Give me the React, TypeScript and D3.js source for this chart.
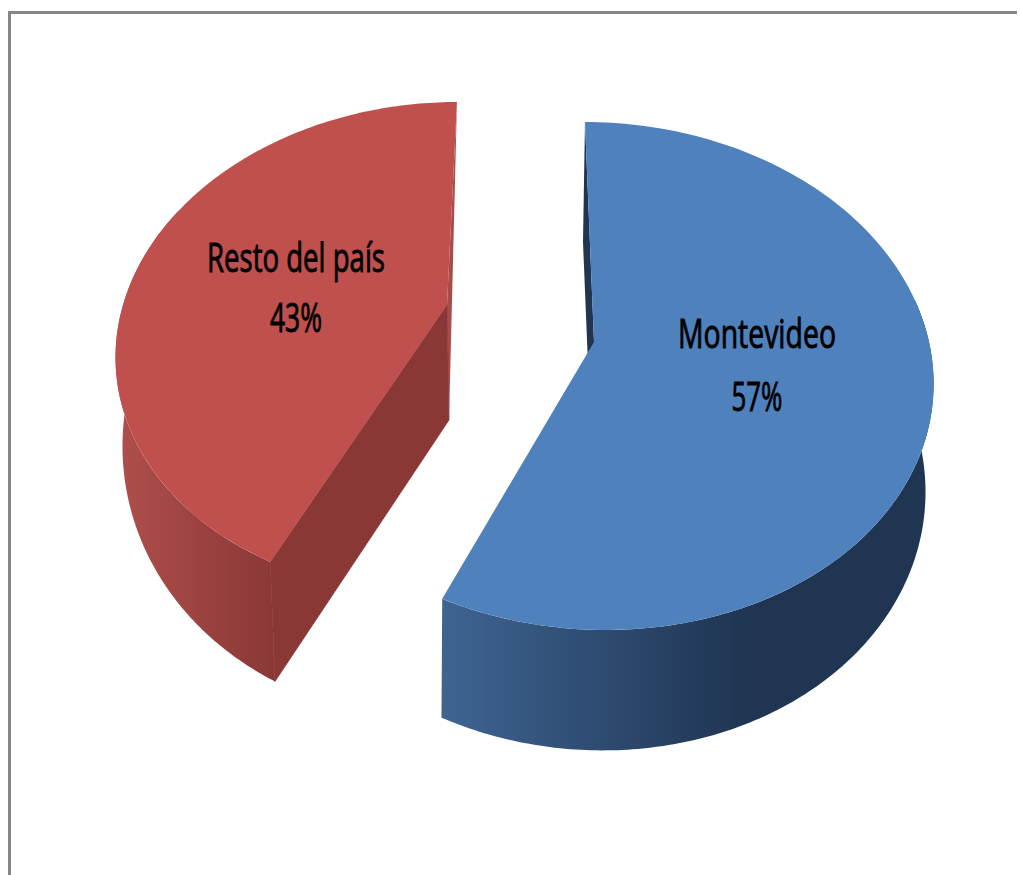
import React from "react";
import * as d3 from "d3";

const categories = ["Montevideo", "Resto del país"];
const shares = [57, 43];
const labels = ["57%", "43%"];

const layouts = [
  {
    ax: 594, ay: 342, rx: 335, ry: 249.4, k: 0.134, skew: 0.041,
    sx: 0.985, sy: 1.05, bx: -3, by: 106, sideRange: [80, 205.2],
    startBottom: [583, 242], apexBottom: [592, 462],
    top: "#4f81bd", wall: "#1f3552", gradFrom: "#3f6492", gradTo: "#1f3552", gradX: [442, 745],
    text: [{ x: 757, y: 348, w: 158 }, { x: 757, y: 411, w: 51 }],
  },
  {
    ax: 447, ay: 305, rx: 324, ry: 238.7, k: 0.176, skew: -0.049,
    sx: 0.985, sy: 1.15, bx: 2, by: 81, sideRange: [205.2, 295],
    startBottom: [453, 261], apexBottom: [449, 420],
    top: "#c0504d", wall: "#8a3836", gradFrom: "#ae4e4b", gradTo: "#8a3836", gradX: [122, 275],
    text: [{ x: 296, y: 272, w: 178 }, { x: 296, y: 332, w: 52 }],
  },
];

const pieGen = d3.pie<number>().sort(null);
const arcs = pieGen(shares);
const line = d3.line<number[]>().x((d) => d[0]).y((d) => d[1]);

type L = (typeof layouts)[number];

function topPoint(l: L, a: number): number[] {
  const u = Math.sin(a);
  const v = -Math.cos(a);
  const den = 1 - l.k * v;
  const y = (l.ry * v) / den;
  const x = (l.rx * u) / den + l.skew * y;
  return [l.ax + x, l.ay + y];
}

function bottomPoint(l: L, p: number[]): number[] {
  return [l.ax + l.bx + (p[0] - l.ax) * l.sx, l.ay + l.by + (p[1] - l.ay) * l.sy];
}

function sample(from: number, to: number): number[] {
  const n = 160;
  return d3.range(n + 1).map((i) => from + ((to - from) * i) / n);
}

export default function App() {
  return (
    <svg
      width={1020}
      height={875}
      viewBox="0 0 1020 875"
      style={{ position: "absolute", left: 0, top: 0, background: "#fff" }}
    >
      <defs>
        {layouts.map((l, i) => (
          <linearGradient key={i} id={`side${i}`} gradientUnits="userSpaceOnUse" x1={l.gradX[0]} x2={l.gradX[1]} y1={0} y2={0}>
            <stop offset="0" stopColor={l.gradFrom} />
            <stop offset="1" stopColor={l.gradTo} />
          </linearGradient>
        ))}
      </defs>
      <path d="M9.5,875V12.5H1017" fill="none" stroke="#868686" strokeWidth={3} />
      {arcs.map((arc, i) => {
        const l = layouts[i];
        const angles = sample(arc.startAngle, arc.endAngle);
        const top = angles.map((a) => topPoint(l, a));
        const apex = [l.ax, l.ay];
        const rad = Math.PI / 180;
        const sideTop = sample(l.sideRange[0] * rad, l.sideRange[1] * rad).map((a) => topPoint(l, a));
        const sideBottom = sideTop.map((p) => bottomPoint(l, p)).reverse();
        // The straight cut that faces the gap: far end is the top of the pie for both slices.
        const farEnd = i === 0 ? top[0] : top[top.length - 1];
        const nearEnd = i === 0 ? top[top.length - 1] : top[0];
        const cutWall = [farEnd, apex, l.apexBottom, l.startBottom];
        const frontWall = [apex, nearEnd, bottomPoint(l, nearEnd), l.apexBottom];
        return (
          <g key={categories[i]}>
            <path d={line(cutWall) + "Z"} fill={i === 0 ? l.wall : "#a84c49"} />
            <path d={line([...sideTop, ...sideBottom]) + "Z"} fill={`url(#side${i})`} />
            {i === 1 && <path d={line(frontWall) + "Z"} fill={l.wall} stroke={l.wall} strokeWidth={0.8} />}
            <path d={line([apex, ...top]) + "Z"} fill={l.top} />
            <g fill="#000" stroke="#000" strokeWidth={0.9} fontFamily="'Liberation Sans Narrow','Open Sans',sans-serif" fontSize={41} textAnchor="middle">
              <text x={l.text[0].x} y={l.text[0].y} textLength={l.text[0].w} lengthAdjust="spacingAndGlyphs">{categories[i]}</text>
              <text x={l.text[1].x} y={l.text[1].y} textLength={l.text[1].w} lengthAdjust="spacingAndGlyphs">{labels[i]}</text>
            </g>
          </g>
        );
      })}
    </svg>
  );
}
